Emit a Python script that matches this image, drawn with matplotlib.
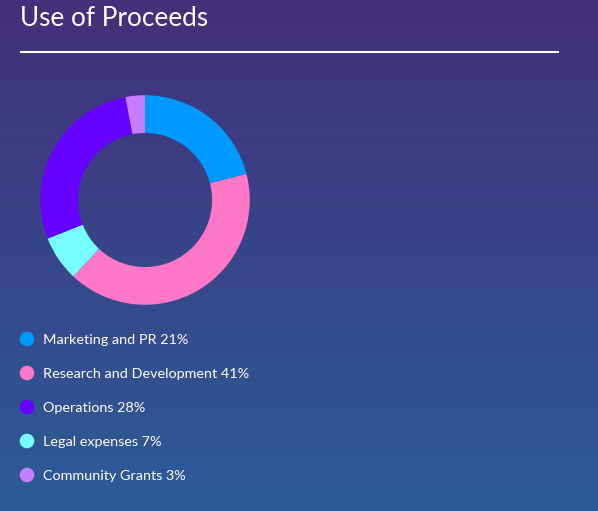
import numpy as np
import matplotlib
matplotlib.use("Agg")
import matplotlib.pyplot as plt
from matplotlib.colors import LinearSegmentedColormap

# legend order
labels = ["Marketing and PR", "Research and Development", "Operations",
          "Legal expenses", "Community Grants"]
shares = [21, 41, 28, 7, 3]
colors = ["#0099ff", "#ff77c8", "#6600ff", "#77ffff", "#c77dff"]
# order of slices clockwise from the top of the ring
pie_order = [0, 1, 3, 2, 4]

W, H = 598, 511
plt.rcParams["font.family"] = ["Lato", "DejaVu Sans"]
fig = plt.figure(figsize=(W / 100, H / 100), dpi=100)

# background gradient
bg = fig.add_axes([0, 0, 1, 1])
grad = np.linspace(0, 1, 256).reshape(-1, 1)
cmap = LinearSegmentedColormap.from_list("bg", ["#43307a", "#2c5c98"])
bg.imshow(grad, aspect="auto", cmap=cmap, extent=[0, W, H, 0])
bg.set_xlim(0, W)
bg.set_ylim(H, 0)
bg.axis("off")

bg.text(20, 18, "Use of Proceeds", color="white", fontsize=18.8,
        va="center", ha="left")
bg.plot([20, 559], [52, 52], color="white", lw=1.5, solid_capstyle="butt")

# legend
for i, (lab, val, c) in enumerate(zip(labels, shares, colors)):
    y = 339 + i * 34
    bg.scatter([27], [y], s=110, color=c, edgecolors="none")
    bg.text(43, y + 0.5, f"{lab} {val}%", color="white", fontsize=10.4,
            va="center", ha="left")

# donut
cx, cy, half = 145, 200, 110
ax = fig.add_axes([(cx - half) / W, (H - cy - half) / H, 2 * half / W, 2 * half / H])
ax.pie([shares[i] for i in pie_order], colors=[colors[i] for i in pie_order],
       startangle=90, counterclock=False,
       wedgeprops=dict(width=0.36, edgecolor="none"))
ax.set_xlim(-1.05, 1.05)
ax.set_ylim(-1.05, 1.05)
ax.set_aspect("equal")
ax.axis("off")

fig.savefig("out.png", dpi=100)
